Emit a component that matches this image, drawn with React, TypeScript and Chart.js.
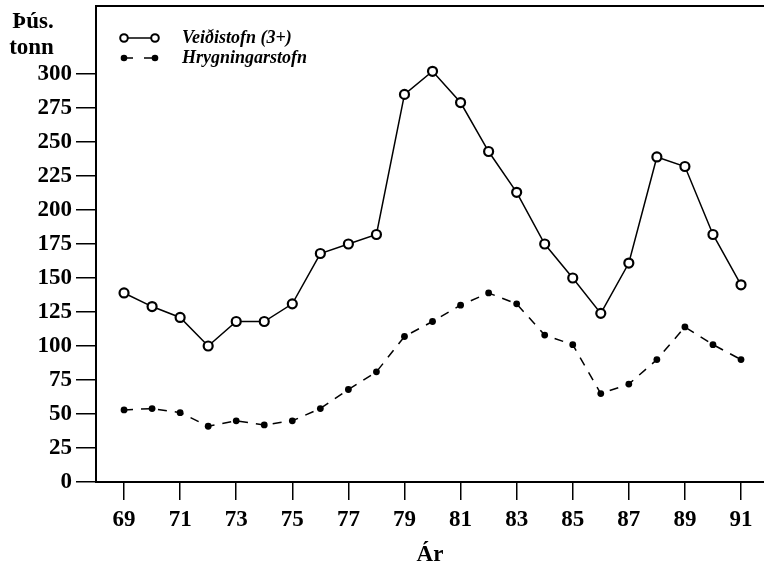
import React, { useEffect, useRef } from "react";
import { Chart, registerables } from "chart.js";

Chart.register(...registerables);

const years = [69, 70, 71, 72, 73, 74, 75, 76, 77, 78, 79, 80, 81, 82, 83, 84, 85, 86, 87, 88, 89, 90, 91];
const veidistofn = [139, 129, 121, 100, 118, 118, 131, 168, 175, 182, 285, 302, 279, 243, 213, 175, 150, 124, 161, 239, 232, 182, 145];
const hrygningarstofn = [53, 54, 51, 41, 45, 42, 45, 54, 68, 81, 107, 118, 130, 139, 131, 108, 101, 65, 72, 90, 114, 101, 90];
const xTickLabels = [69, 71, 73, 75, 77, 79, 81, 83, 85, 87, 89, 91];
const yTickLabels = [0, 25, 50, 75, 100, 125, 150, 175, 200, 225, 250, 275, 300];
const seriesNames = ["Veiðistofn (3+)", "Hrygningarstofn"];
const yUnitLines = ["Þús.", "tonn"];
const xTitle = "Ár";

const FAMILY = "'Liberation Serif', 'Times New Roman', serif";

const overlayPlugin = {
  id: "overlay",
  afterDraw(chart: any) {
    const ctx = chart.ctx;
    const { left, right, top } = chart.chartArea;
    ctx.save();
    // top frame line
    ctx.strokeStyle = "#000";
    ctx.lineWidth = 2;
    ctx.beginPath();
    ctx.moveTo(left, top);
    ctx.lineTo(right, top);
    ctx.stroke();

    // unit label
    ctx.fillStyle = "#000";
    ctx.font = `bold 23px ${FAMILY}`;
    ctx.textAlign = "center";
    ctx.textBaseline = "alphabetic";
    ctx.fillText(yUnitLines[0], 33, 28);
    ctx.fillText(yUnitLines[1], 31.5, 54);

    // legend
    const lx0 = 124;
    const lx1 = 155;
    const ly0 = 38;
    const ly1 = 58;
    ctx.lineWidth = 1.5;
    ctx.beginPath();
    ctx.moveTo(lx0, ly0);
    ctx.lineTo(lx1, ly0);
    ctx.stroke();
    ctx.lineWidth = 2;
    [lx0, lx1].forEach((x) => {
      ctx.beginPath();
      ctx.arc(x, ly0, 3.8, 0, Math.PI * 2);
      ctx.fillStyle = "#fff";
      ctx.fill();
      ctx.stroke();
    });
    ctx.lineWidth = 1.5;
    ctx.beginPath();
    ctx.moveTo(lx0, ly1);
    ctx.lineTo(lx0 + 9, ly1);
    ctx.moveTo(lx1 - 11, ly1);
    ctx.lineTo(lx1, ly1);
    ctx.stroke();
    ctx.fillStyle = "#000";
    [lx0, lx1].forEach((x) => {
      ctx.beginPath();
      ctx.arc(x, ly1, 3.3, 0, Math.PI * 2);
      ctx.fill();
    });
    ctx.font = `italic bold 18px ${FAMILY}`;
    ctx.textAlign = "left";
    ctx.textBaseline = "middle";
    ctx.fillText(seriesNames[0], 182, ly0);
    ctx.fillText(seriesNames[1], 182, ly1);
    ctx.restore();
  },
};

export default function App() {
  const canvasRef = useRef<HTMLCanvasElement | null>(null);

  useEffect(() => {
    if (!canvasRef.current) return;
    const tickFont = { family: FAMILY, size: 23, weight: "bold" as const };
    const chart = new Chart(canvasRef.current, {
      type: "line",
      data: {
        datasets: [
          {
            label: seriesNames[0],
            data: years.map((y, i) => ({ x: y, y: veidistofn[i] })),
            borderColor: "#000",
            borderWidth: 1.5,
            pointRadius: 4.5,
            pointBorderWidth: 2.2,
            pointBackgroundColor: "#fff",
            pointBorderColor: "#000",
            tension: 0,
          },
          {
            label: seriesNames[1],
            data: years.map((y, i) => ({ x: y, y: hrygningarstofn[i] })),
            borderColor: "#000",
            borderWidth: 1.5,
            borderDash: [9, 8],
            pointRadius: 3.4,
            pointBorderWidth: 0,
            pointBackgroundColor: "#000",
            pointBorderColor: "#000",
            tension: 0,
          },
        ],
      },
      options: {
        animation: false,
        responsive: true,
        maintainAspectRatio: false,
        layout: { autoPadding: false, padding: { top: 6, right: 0, bottom: 0, left: 0 } },
        plugins: {
          legend: { display: false },
          tooltip: { enabled: false },
        },
        scales: {
          x: {
            type: "linear",
            min: 68,
            max: 91.82,
            afterBuildTicks: (s: any) => {
              s.ticks = xTickLabels.map((v) => ({ value: v }));
            },
            afterFit: (s: any) => {
              s.height = 87;
              s.paddingLeft = 0;
              s.paddingRight = 0;
            },
            ticks: {
              font: tickFont,
              color: "#000",
              padding: 6,
              autoSkip: false,
              maxRotation: 0,
              callback: (v: any) => String(v),
            },
            grid: {
              drawOnChartArea: false,
              drawTicks: true,
              tickLength: 18,
              color: "#000",
              lineWidth: 1.5,
            },
            border: { display: true, color: "#000", width: 2 },
            title: {
              display: true,
              text: xTitle,
              font: tickFont,
              color: "#000",
              padding: { top: 0, bottom: 0 },
            },
          },
          y: {
            min: 0,
            max: 350,
            afterBuildTicks: (s: any) => {
              s.ticks = yTickLabels.map((v) => ({ value: v }));
            },
            afterFit: (s: any) => {
              s.width = 96;
              s.paddingTop = 0;
              s.paddingBottom = 0;
            },
            ticks: {
              font: tickFont,
              color: "#000",
              padding: 4,
              callback: (v: any) => String(v),
            },
            grid: {
              drawOnChartArea: false,
              drawTicks: true,
              tickLength: 20,
              color: "#000",
              lineWidth: 1.5,
            },
            border: { display: true, color: "#000", width: 2 },
          },
        },
      },
      plugins: [overlayPlugin],
    });
    return () => chart.destroy();
  }, []);

  return (
    <div style={{ position: "fixed", left: 0, top: 0, width: 764, height: 569, background: "#fff" }}>
      <canvas ref={canvasRef} />
    </div>
  );
}
